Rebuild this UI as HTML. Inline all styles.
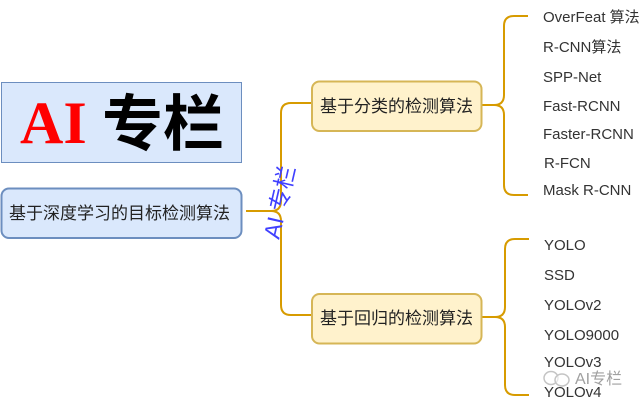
<!DOCTYPE html>
<html>
<head>
<meta charset="utf-8">
<style>
html,body{margin:0;padding:0;background:#fff;width:643px;height:407px;overflow:hidden}
svg{display:block}
text{font-family:"Liberation Sans","Noto Sans CJK SC",sans-serif;fill:#222}
</style>
</head>
<body>
<svg width="643" height="407" viewBox="0 0 643 407" xmlns="http://www.w3.org/2000/svg">
<rect width="643" height="407" fill="#fff"/>
<!-- connectors -->
<g fill="none" stroke="#d79b00" stroke-width="2">
<path d="M246 211H271Q281 211 281 201V113Q281 103 291 103H312"/>
<path d="M271 211Q281 211 281 221V305Q281 315 291 315H312"/>
<path d="M482 105H494Q504 105 504 95V26Q504 16 514 16H528"/>
<path d="M494 105Q504 105 504 115V185Q504 195 514 195H528"/>
<path d="M482 317H495Q505 317 505 307V249Q505 239 515 239H529"/>
<path d="M495 317Q505 317 505 327V385Q505 395 515 395H529"/>
</g>
<!-- title box -->
<rect x="1.500" y="82.500" width="240" height="80" fill="#dae8fc" stroke="#6c8ebf" stroke-width="1"/>
<text x="20" y="143" style="font-family:'Liberation Serif','Noto Serif CJK SC',serif;font-weight:bold;font-size:60px;fill:#ff0000">AI</text>
<text x="102" y="145" style="font-weight:bold;font-size:61px;fill:#000">专栏</text>
<!-- root -->
<rect x="1.500" y="188.500" width="240" height="49.500" rx="7.500" fill="#dae8fc" stroke="#6c8ebf" stroke-width="2"/>
<text x="9" y="219" font-size="17">基于深度学习的目标检测算法</text>
<!-- branches -->
<rect x="312" y="81.500" width="169.500" height="49.500" rx="7.500" fill="#fff2cc" stroke="#d6b656" stroke-width="2"/>
<text x="320" y="112" font-size="17">基于分类的检测算法</text>
<rect x="312" y="294" width="169.500" height="49.500" rx="7.500" fill="#fff2cc" stroke="#d6b656" stroke-width="2"/>
<text x="320" y="324" font-size="17">基于回归的检测算法</text>
<!-- rotated label -->
<text transform="translate(279 240) rotate(-77)" font-size="23" style="fill:#4040ff">AI 专栏</text>
<!-- leaves -->
<g font-size="15" style="fill:#333">
<text x="543" y="22" fill="#333" style="fill:#333">OverFeat 算法</text>
<text x="543" y="52" style="fill:#333">R-CNN算法</text>
<text x="543" y="82" style="fill:#333">SPP-Net</text>
<text x="543" y="111" style="fill:#333">Fast-RCNN</text>
<text x="543" y="139" style="fill:#333">Faster-RCNN</text>
<text x="544" y="168" style="fill:#333">R-FCN</text>
<text x="543" y="195" style="fill:#333">Mask R-CNN</text>
<text x="544" y="250" style="fill:#333">YOLO</text>
<text x="544" y="280" style="fill:#333">SSD</text>
<text x="544" y="310" style="fill:#333">YOLOv2</text>
<text x="544" y="340" style="fill:#333">YOLO9000</text>
<text x="544" y="367" style="fill:#333">YOLOv3</text>
<text x="544" y="397" style="fill:#333">YOLOv4</text>
</g>
<!-- watermark -->
<g fill="#fff" fill-opacity="0.6" stroke="#c4c4c4" stroke-width="1.500">
<ellipse cx="551" cy="378" rx="7" ry="6.500"/>
<ellipse cx="562" cy="380" rx="7" ry="6"/>
</g>
<text x="575" y="384" font-size="16" style="fill:#a0a0a0">AI专栏</text>
</svg>
</body>
</html>
